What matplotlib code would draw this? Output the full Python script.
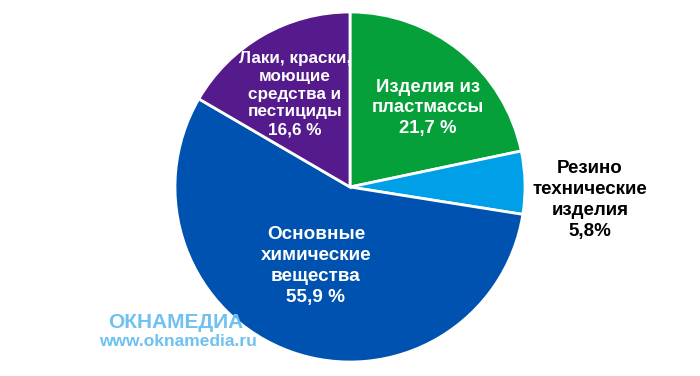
#!/usr/bin/env python3
import matplotlib
matplotlib.use("Agg")
import matplotlib.pyplot as plt

# --- [ pie: structure of chemical production ] ---

# data
SHARES = [21.7, 5.8, 55.9, 16.6]
LABELS = [
    "Изделия из\nпластмассы\n21,7 %",
    "Резино\nтехнические\nизделия\n5,8%",
    "Основные\nхимические\nвещества\n55,9 %",
    "Лаки, краски,\nмоющие\nсредства и\nпестициды\n16,6 %",
]
COLORS = ["#06A03A", "#00A0E8", "#0052B0", "#551A8B"]
EXPLODE = [0.018, 0.022, 0.01, 0.012]

# label placement in pixel coords (x, y from top), size, colour
LABEL_POS = [(428, 108), (590, 200), (316, 266), (295, 94)]
LABEL_SIZE = [13.3, 13.5, 13.6, 12.3]
LABEL_SPACING = [1.3, 1.3, 1.32, 1.23]
LABEL_COLOR = ["white", "black", "white", "white"]

W, H = 700, 376
CENTER = (350, H - 187)
RADIUS = 175

plt.rcParams["font.family"] = ["Liberation Sans", "DejaVu Sans"]

fig = plt.figure(figsize=(W / 100, H / 100), dpi=100)
ax = fig.add_axes([0, 0, 1, 1])
ax.pie(
    SHARES,
    colors=COLORS,
    explode=EXPLODE,
    startangle=90,
    counterclock=False,
    center=CENTER,
    radius=RADIUS,
    wedgeprops=dict(edgecolor="white", linewidth=2),
)
ax.set_xlim(0, W)
ax.set_ylim(0, H)
ax.set_aspect("equal")
ax.axis("off")

for text, (x, y), size, spacing, color in zip(LABELS, LABEL_POS, LABEL_SIZE,
                                               LABEL_SPACING, LABEL_COLOR):
    ax.text(x, H - y, text, ha="center", va="center", fontsize=size,
            fontweight="bold", color=color, linespacing=spacing)

# watermark
ax.text(176, H - 323, "ОКНАМЕДИА", ha="center", va="center", fontsize=15,
        fontweight="bold", color="#6EC1F0", fontstretch="expanded")
ax.text(178, H - 342, "www.oknamedia.ru", ha="center", va="center", fontsize=12.5,
        fontweight="bold", color="#6EC1F0")

fig.savefig("out.png", dpi=100)
